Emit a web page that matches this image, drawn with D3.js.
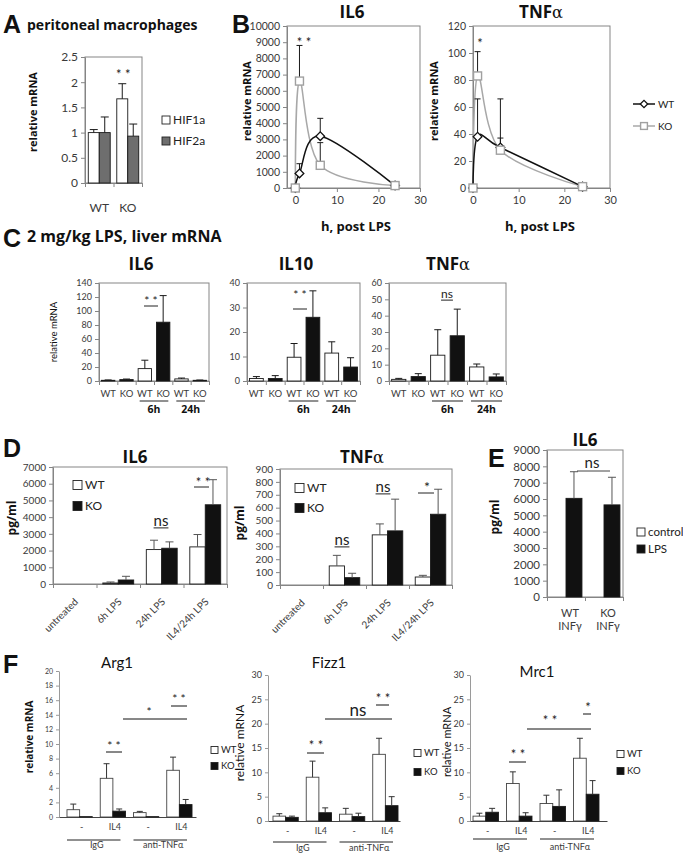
<!DOCTYPE html>
<html>
<head>
<meta charset="utf-8">
<script src="https://cdn.jsdelivr.net/npm/d3@7/dist/d3.min.js"></script>
<style>
html,body{margin:0;padding:0;background:#fff;}
svg{display:block;}
</style>
</head>
<body>
<svg id="fig" width="683" height="855" xmlns="http://www.w3.org/2000/svg"></svg>
<script>
// ===================== DATA =====================
// Panel A – peritoneal macrophages
const aGenotypes = ["WT", "KO"];
const aSeries = ["HIF1a", "HIF2a"];
const aHIF1a = [1.0, 1.67];
const aHIF1aErr = [0.06, 0.30];
const aHIF2a = [1.0, 0.93];
const aHIF2aErr = [0.31, 0.24];
const aTicks = [0, 0.5, 1, 1.5, 2, 2.5];

// Panel B – time course, h post LPS
const bHours = [0, 1, 6, 24];
const bXTicks = [0, 10, 20, 30];
const bSeries = ["WT", "KO"];
const bIL6WT = [0, 900, 3200, 150];
const bIL6WTErr = [0, 600, 1100, 0];
const bIL6KO = [0, 6600, 1400, 150];
const bIL6KOErr = [0, 2200, 1400, 0];
const bIL6Ticks = [0, 1000, 2000, 3000, 4000, 5000, 6000, 7000, 8000, 9000, 10000];
const bTNFWT = [0, 38, 30, 1];
const bTNFWTErr = [0, 28, 7, 0];
const bTNFKO = [0, 83, 28, 1];
const bTNFKOErr = [0, 18, 38, 0];
const bTNFTicks = [0, 20, 40, 60, 80, 100, 120];

// Panel C – 2 mg/kg LPS, liver mRNA
const cLabels = ["WT", "KO", "WT", "KO", "WT", "KO"];
const cGroups = [{label: "6h", from: 2, to: 3}, {label: "24h", from: 4, to: 5}];
const cIL6 = [1, 2, 17.7, 84, 3, 1];
const cIL6Err = [0.5, 0.8, 12, 38, 1.2, 0.4];
const cIL6Ticks = [0, 20, 40, 60, 80, 100, 120, 140];
const cIL10 = [1, 1, 9.7, 26, 11.4, 5.7];
const cIL10Err = [0.8, 1.2, 5.6, 10.8, 4.6, 3.8];
const cIL10Ticks = [0, 10, 20, 30, 40];
const cTNF = [1, 2.7, 15.8, 27.7, 8.6, 2.5];
const cTNFErr = [0.6, 1.8, 15.6, 16.3, 1.8, 1.8];
const cTNFTicks = [0, 10, 20, 30, 40, 50, 60];

// Panel D – pg/ml
const dCats = ["untreated", "6h LPS", "24h LPS", "IL4/24h LPS"];
const dSeries = ["WT", "KO"];
const dIL6WT = [0, 60, 2060, 2220];
const dIL6WTErr = [0, 60, 560, 740];
const dIL6KO = [0, 240, 2140, 4740];
const dIL6KOErr = [0, 220, 380, 1500];
const dIL6Ticks = [0, 1000, 2000, 3000, 4000, 5000, 6000, 7000];
const dTNFWT = [0, 148, 389, 62];
const dTNFWTErr = [0, 82, 85, 13];
const dTNFKO = [0, 57, 420, 549];
const dTNFKOErr = [0, 34, 246, 194];
const dTNFTicks = [0, 100, 200, 300, 400, 500, 600, 700, 800, 900];

// Panel E – IL6 pg/ml
const eCats = [["WT", "INFγ"], ["KO", "INFγ"]];
const eSeries = ["control", "LPS"];
const eControl = [0, 0];
const eControlErr = [0, 0];
const eLPS = [6040, 5640];
const eLPSErr = [1630, 1690];
const eTicks = [0, 1000, 2000, 3000, 4000, 5000, 6000, 7000, 8000, 9000];

// Panel F – relative mRNA
const fCats = ["-", "IL4", "-", "IL4"];
const fGroups = [{label: "IgG", from: 0, to: 1}, {label: "anti-TNFα", from: 2, to: 3}];
const fSeries = ["WT", "KO"];
const arg1WT = [1.0, 5.3, 0.6, 6.4];
const arg1WTErr = [0.77, 2.0, 0.17, 1.8];
const arg1KO = [0.05, 0.8, 0.05, 1.7];
const arg1KOErr = [0, 0.3, 0, 0.7];
const arg1Ticks = [0, 2, 4, 6, 8, 10, 12, 14, 16, 18, 20];
const fizz1WT = [1.0, 9.0, 1.4, 13.7];
const fizz1WTErr = [0.5, 3.3, 1.2, 3.3];
const fizz1KO = [0.75, 1.7, 0.9, 3.15];
const fizz1KOErr = [0.25, 1.0, 0.7, 1.85];
const mrc1WT = [1.0, 7.7, 3.6, 12.9];
const mrc1WTErr = [0.6, 2.4, 1.7, 4.1];
const mrc1KO = [1.8, 1.0, 3.0, 5.5];
const mrc1KOErr = [0.8, 0.7, 3.4, 2.8];
const fTicks = [0, 5, 10, 15, 20, 25, 30];

// ===================== HELPERS =====================
const svg = d3.select("#fig");
svg.append("rect").attr("width", 683).attr("height", 855).attr("fill", "#fff");
const AXC = "#858585";
const TICKC = "#3a3a3a";
const SANS = "Lato, 'Open Sans', sans-serif";
const BOLD = "'Open Sans', Lato, sans-serif";
const BIG = "'Liberation Sans', Arial, sans-serif";
const WHITE = "#ffffff", BLACK = "#111111", GREY = "#6e6e6e";

function txt(x, y, s, o = {}) {
  const t = svg.append("text").attr("x", x).attr("y", y)
    .attr("font-family", o.family || SANS)
    .attr("font-size", o.size || 11)
    .attr("font-weight", o.weight || "normal")
    .attr("fill", o.fill || "#111")
    .attr("text-anchor", o.anchor || "start");
  if (o.dy) t.attr("dy", o.dy);
  t.text(s);
  return t;
}
function vtxt(x, y, s, o = {}) {
  return svg.append("text").attr("transform", `translate(${x},${y}) rotate(-90)`)
    .attr("text-anchor", "middle").attr("dy", "0.35em")
    .attr("font-family", o.family || SANS).attr("font-size", o.size || 11)
    .attr("font-weight", o.weight || "normal").attr("fill", o.fill || "#111").text(s);
}
function greekTitle(x, y, base, greek, size) {
  const t = svg.append("text").attr("x", x).attr("y", y).attr("text-anchor", "middle")
    .attr("font-family", BOLD).attr("font-size", size).attr("font-weight", "bold").attr("fill", "#111");
  t.append("tspan").text(base);
  t.append("tspan").attr("font-family", "'DejaVu Serif', serif").attr("font-weight", "normal")
    .attr("font-size", size * 0.95).text(greek);
  return t;
}
function seg(x1, y1, x2, y2, c = "#111", w = 1) {
  svg.append("line").attr("x1", x1).attr("y1", y1).attr("x2", x2).attr("y2", y2)
    .attr("stroke", c).attr("stroke-width", w);
}
function stars(cx, cy, s, size = 13) {
  return txt(cx, cy + size * 0.56, s, {size, anchor: "middle", fill: "#222"});
}
function ns(cx, cy, size, underline) {
  const t = txt(cx, cy + size * 0.26, "ns", {size, anchor: "middle", fill: "#222"});
  if (underline) {
    const w = t.node().getComputedTextLength();
    seg(cx - w / 2, cy + size * 0.26 + 2, cx + w / 2, cy + size * 0.26 + 2, "#222", 1);
  }
  return t;
}
function legendSquare(x, yc, fill, label, size, fs) {
  svg.append("rect").attr("x", x).attr("y", yc - size / 2).attr("width", size).attr("height", size)
    .attr("fill", fill).attr("stroke", "#222").attr("stroke-width", 0.9);
  txt(x + size + 3, yc, label, {size: fs, dy: "0.35em", fill: "#222"});
}

function barChart(o) {
  const n = o.n;
  const y = d3.scaleLinear().domain([0, o.yMax]).range([o.yBot, o.yTop]);
  const x = d3.scaleBand().domain(d3.range(n)).range(o.band || [o.x0, o.x1]);
  const ns_ = o.series.length;
  const gw = x.bandwidth() * o.groupFrac;
  const inner = d3.scaleBand().domain(d3.range(ns_))
    .range([(x.bandwidth() - gw) / 2, (x.bandwidth() + gw) / 2]);
  const g = svg.append("g");
  if (o.box) g.append("rect").attr("x", o.x0).attr("y", o.yTop).attr("width", o.x1 - o.x0)
    .attr("height", o.yBot - o.yTop).attr("fill", "none").attr("stroke", AXC).attr("stroke-width", 1);
  const ya = g.append("g").attr("transform", `translate(${o.x0},0)`)
    .call(d3.axisLeft(y).tickValues(o.ticks).tickSize(o.tickLen || 4).tickSizeOuter(0)
      .tickPadding(o.tickPad || 3).tickFormat(d => String(d)));
  ya.select(".domain").attr("stroke", o.yAxisColor || AXC);
  ya.selectAll(".tick line").attr("stroke", o.yAxisColor || AXC);
  ya.selectAll(".tick text").attr("font-family", SANS).attr("font-size", o.tickFont).attr("fill", TICKC);
  const idx = d3.scaleLinear().domain([0, n]).range([o.x0, o.x1]);
  const xa = g.append("g").attr("transform", `translate(0,${o.yBot})`)
    .call(d3.axisBottom(idx).tickValues(o.catTicks ? d3.range(n + 1) : []).tickSize(4)
      .tickSizeOuter(0).tickFormat(""));
  xa.select(".domain").attr("stroke", o.xAxisColor || AXC);
  xa.selectAll(".tick line").attr("stroke", AXC);
  o.series.forEach((s, si) => {
    const fillOf = i => typeof s.fill === "function" ? s.fill(i) : s.fill;
    g.append("g").selectAll("rect").data(s.vals).join("rect")
      .attr("x", (d, i) => x(i) + inner(si)).attr("width", inner.bandwidth())
      .attr("y", d => y(d)).attr("height", d => Math.max(0, y(0) - y(d)))
      .attr("fill", (d, i) => fillOf(i)).attr("stroke", s.stroke || "#1a1a1a")
      .attr("stroke-width", o.barStroke || 0.9);
  });
  o.series.forEach((s, si) => {
    const eg = g.append("g").attr("stroke", o.errColor || "#1a1a1a").attr("stroke-width", 1);
    s.vals.forEach((v, i) => {
      const e = s.errs[i];
      if (!e) return;
      const cx = x(i) + inner(si) + inner.bandwidth() / 2;
      eg.append("line").attr("x1", cx).attr("x2", cx).attr("y1", y(v)).attr("y2", y(v + e));
      eg.append("line").attr("x1", cx - o.cap).attr("x2", cx + o.cap).attr("y1", y(v + e)).attr("y2", y(v + e));
    });
  });
  return {x, y, inner,
    cx: (i, si) => x(i) + inner(si) + inner.bandwidth() / 2,
    mid: i => x(i) + x.bandwidth() / 2};
}

function marker(g, cx, cy, type, color, scale = 1) {
  if (type === "square") {
    g.append("rect").attr("x", cx - 4 * scale).attr("y", cy - 4 * scale)
      .attr("width", 8 * scale).attr("height", 8 * scale)
      .attr("fill", "#fff").attr("stroke", color).attr("stroke-width", 1.4);
  } else {
    g.append("path").attr("d", d3.symbol().type(d3.symbolSquare).size(38 * scale * scale)())
      .attr("transform", `translate(${cx},${cy}) rotate(45)`)
      .attr("fill", "#fff").attr("stroke", color).attr("stroke-width", 1.3);
  }
}

function lineChart(o) {
  const x = d3.scaleLinear().domain(o.xDom).range([o.x0, o.x1]);
  const y = d3.scaleLinear().domain([0, o.yMax]).range([o.yBot, o.yTop]);
  const g = svg.append("g");
  g.append("rect").attr("x", o.x0).attr("y", o.yTop).attr("width", o.x1 - o.x0)
    .attr("height", o.yBot - o.yTop).attr("fill", "none").attr("stroke", AXC);
  const ya = g.append("g").attr("transform", `translate(${o.x0},0)`)
    .call(d3.axisLeft(y).tickValues(o.yTicks).tickSize(4).tickSizeOuter(0).tickPadding(3).tickFormat(d => String(d)));
  ya.select(".domain").attr("stroke", AXC);
  ya.selectAll(".tick line").attr("stroke", AXC);
  ya.selectAll(".tick text").attr("font-family", SANS).attr("font-size", o.tickFont).attr("fill", TICKC);
  const xa = g.append("g").attr("transform", `translate(0,${o.yBot})`)
    .call(d3.axisBottom(x).tickValues(bXTicks).tickSize(4).tickSizeOuter(0).tickPadding(4));
  xa.select(".domain").attr("stroke", AXC);
  xa.selectAll(".tick line").attr("stroke", AXC);
  xa.selectAll(".tick text").attr("font-family", SANS).attr("font-size", o.tickFont + 0.5).attr("fill", TICKC);
  const line = d3.line().x((d, i) => x(bHours[i])).y(d => y(d)).curve(d3.curveCardinal.tension(0));
  [...o.series].reverse().forEach(s => g.append("path").attr("d", line(s.vals)).attr("fill", "none")
    .attr("stroke", s.color).attr("stroke-width", 1.5));
  o.series.forEach(s => s.vals.forEach((v, i) => {
    const e = s.errs[i];
    if (!e) return;
    const cx = x(bHours[i]);
    g.append("line").attr("x1", cx).attr("x2", cx).attr("y1", y(v)).attr("y2", y(v + e)).attr("stroke", "#1a1a1a");
    g.append("line").attr("x1", cx - 3).attr("x2", cx + 3).attr("y1", y(v + e)).attr("y2", y(v + e)).attr("stroke", "#1a1a1a");
  }));
  o.series.forEach(s => s.vals.forEach((v, i) => marker(g, x(bHours[i]), y(v), s.marker, s.mcolor)));
  return {x, y};
}

// ===================== PANEL A =====================
txt(3, 33, "A", {size: 25, weight: "bold", family: BIG});
txt(27, 30, "peritoneal macrophages", {size: 14, weight: "bold", family: BOLD});
const aFills = [WHITE, GREY];
const A = barChart({n: 2, x0: 85, x1: 142, yTop: 57, yBot: 183, yMax: 2.5, ticks: aTicks, tickFont: 12,
  groupFrac: 0.77, box: true, catTicks: true, cap: 4,
  series: [{vals: aHIF1a, errs: aHIF1aErr, fill: aFills[0]}, {vals: aHIF2a, errs: aHIF2aErr, fill: aFills[1]}]});
aGenotypes.forEach((c, i) => txt(A.mid(i), 212, c, {size: 12, anchor: "middle", fill: TICKC}));
stars(A.cx(1, 0) + 1, 72, "* *", 13);
vtxt(33, 112, "relative mRNA", {size: 11, weight: "bold", family: BOLD});
aSeries.forEach((s, i) => legendSquare(162, [120, 141][i], aFills[i], s, 8, 12));

// ===================== PANEL B =====================
txt(232, 33, "B", {size: 25, weight: "bold", family: BIG});
const bSty = [{color: "#111", mcolor: "#111", marker: "diamond"}, {color: "#a8a8a8", mcolor: "#a0a0a0", marker: "square"}];
lineChart({x0: 287, x1: 420, yTop: 26, yBot: 188, xDom: [-2, 30], yMax: 10000, yTicks: bIL6Ticks, tickFont: 10.5,
  series: [Object.assign({vals: bIL6WT, errs: bIL6WTErr}, bSty[0]), Object.assign({vals: bIL6KO, errs: bIL6KOErr}, bSty[1])]});
lineChart({x0: 473, x1: 610, yTop: 26, yBot: 188, xDom: [0, 30], yMax: 120, yTicks: bTNFTicks, tickFont: 10.5,
  series: [Object.assign({vals: bTNFWT, errs: bTNFWTErr}, bSty[0]), Object.assign({vals: bTNFKO, errs: bTNFKOErr}, bSty[1])]});
txt(352, 18, "IL6", {size: 17, weight: "bold", family: BOLD, anchor: "middle"});
greekTitle(541, 18, "TNF", "α", 17);
vtxt(247, 101, "relative mRNA", {size: 11, weight: "bold", family: BOLD});
vtxt(434, 101, "relative mRNA", {size: 11, weight: "bold", family: BOLD});
txt(356, 231, "h, post LPS", {size: 13, weight: "bold", family: BOLD, anchor: "middle"});
txt(540, 231, "h, post LPS", {size: 13, weight: "bold", family: BOLD, anchor: "middle"});
stars(304, 40, "* *", 13);
stars(480, 41, "*", 13);
{
  const lg = svg.append("g");
  bSeries.forEach((s, i) => {
    const yc = [104, 126][i];
    lg.append("line").attr("x1", 633).attr("x2", 655).attr("y1", yc).attr("y2", yc)
      .attr("stroke", bSty[i].color).attr("stroke-width", 1.5);
    marker(lg, 644, yc, bSty[i].marker, bSty[i].mcolor, 0.85);
    txt(658, yc, s, {size: 10, dy: "0.35em", fill: "#222"});
  });
}

// ===================== PANEL C =====================
txt(3, 247, "C", {size: 25, weight: "bold", family: BIG});
txt(27, 242, "2 mg/kg LPS, liver mRNA", {size: 16, weight: "bold", family: BOLD});
txt(141, 270, "IL6", {size: 17, weight: "bold", family: BOLD, anchor: "middle"});
txt(296, 270, "IL10", {size: 17, weight: "bold", family: BOLD, anchor: "middle"});
greekTitle(448, 270, "TNF", "α", 17);
const cFill = i => cLabels[i] === "WT" ? WHITE : BLACK;
const cCharts = [
  {vals: cIL6, errs: cIL6Err, ticks: cIL6Ticks, yMax: 140, x0: 99, x1: 209},
  {vals: cIL10, errs: cIL10Err, ticks: cIL10Ticks, yMax: 40, x0: 247, x1: 360},
  {vals: cTNF, errs: cTNFErr, ticks: cTNFTicks, yMax: 60, x0: 389, x1: 506}
].map(c => {
  const r = barChart({n: 6, x0: c.x0, x1: c.x1, yTop: 283, yBot: 381, yMax: c.yMax, ticks: c.ticks, tickFont: 9,
    groupFrac: 0.73, box: true, catTicks: true, cap: 3.5, series: [{vals: c.vals, errs: c.errs, fill: cFill}]});
  cLabels.forEach((l, i) => txt(r.mid(i), 397, l, {size: 9.5, anchor: "middle", fill: TICKC}));
  cGroups.forEach(gp => {
    const xa = r.x(gp.from) + 4, xb = r.x(gp.to) + r.x.bandwidth() - 4;
    seg(xa, 401, xb, 401, "#222", 1);
    txt((xa + xb) / 2, 413, gp.label, {size: 10.5, weight: "bold", family: BOLD, anchor: "middle"});
  });
  return r;
});
vtxt(54, 332, "relative mRNA", {size: 9.5});
seg(144, 306, 158, 306, "#222");
stars(151, 298, "* *", 12);
seg(293, 309, 307, 309, "#222");
stars(300, 292, "* *", 12);
ns(447, 295, 12, true);

// ===================== PANEL D =====================
txt(3, 457, "D", {size: 25, weight: "bold", family: BIG});
txt(135, 463, "IL6", {size: 17, weight: "bold", family: BOLD, anchor: "middle"});
greekTitle(362, 463, "TNF", "α", 17);
const dFills = [WHITE, BLACK];
const D1 = barChart({n: 4, x0: 53, x1: 227, yTop: 467, yBot: 584, yMax: 7000, ticks: dIL6Ticks, tickFont: 10,
  groupFrac: 0.71, box: true, catTicks: true, cap: 4, errColor: "#555",
  series: [{vals: dIL6WT, errs: dIL6WTErr, fill: dFills[0]}, {vals: dIL6KO, errs: dIL6KOErr, fill: dFills[1]}]});
const D2 = barChart({n: 4, x0: 280, x1: 452, yTop: 469, yBot: 585, yMax: 900, ticks: dTNFTicks, tickFont: 10,
  groupFrac: 0.71, box: true, catTicks: true, cap: 4, errColor: "#555",
  series: [{vals: dTNFWT, errs: dTNFWTErr, fill: dFills[0]}, {vals: dTNFKO, errs: dTNFKOErr, fill: dFills[1]}]});
[[D1, 600], [D2, 601]].forEach(([r, yy]) => dCats.forEach((c, i) => {
  svg.append("text").attr("transform", `translate(${r.mid(i) + 1.5},${yy}) rotate(-45)`)
    .attr("text-anchor", "end").attr("dy", "0.35em").attr("font-family", SANS).attr("font-size", 10)
    .attr("fill", TICKC).text(c);
}));
vtxt(12, 518, "pg/ml", {size: 12, weight: "bold", family: BOLD});
vtxt(240, 523, "pg/ml", {size: 12, weight: "bold", family: BOLD});
dSeries.forEach((s, i) => legendSquare(73, [485, 506][i], dFills[i], s, 9, 12));
dSeries.forEach((s, i) => legendSquare(295, [488, 508][i], dFills[i], s, 9, 12));
ns(161, 522, 15, true);
seg(194, 487, 209, 487, "#222");
stars(203, 480, "* *", 13);
ns(342, 541, 15, true);
ns(383, 488, 15, true);
seg(418, 493, 434, 493, "#222");
stars(427, 484, "*", 14);

// ===================== PANEL E =====================
txt(488, 467, "E", {size: 25, weight: "bold", family: BIG});
txt(585, 446, "IL6", {size: 17, weight: "bold", family: BOLD, anchor: "middle"});
const eFills = [WHITE, BLACK];
const E = barChart({n: 2, x0: 547, x1: 623, yTop: 450, yBot: 597, yMax: 9000, ticks: eTicks, tickFont: 11.5,
  groupFrac: 0.84, box: true, catTicks: true, cap: 4, errColor: "#555",
  series: [{vals: eControl, errs: eControlErr, fill: eFills[0]}, {vals: eLPS, errs: eLPSErr, fill: eFills[1]}]});
eCats.forEach((c, i) => {
  txt(E.mid(i) + 4, 617, c[0], {size: 11, anchor: "middle", fill: TICKC});
  txt(E.mid(i) + 4, 630, c[1], {size: 11, anchor: "middle", fill: TICKC});
});
vtxt(495, 517, "pg/ml", {size: 12, weight: "bold", family: BOLD});
eSeries.forEach((s, i) => legendSquare(637, [532, 549][i], eFills[i], s, 8, 11.5));
seg(577, 471, 610, 471, "#444");
ns(592, 464, 15, false);

// ===================== PANEL F =====================
txt(3, 673, "F", {size: 25, weight: "bold", family: BIG});
txt(117, 668, "Arg1", {size: 15, anchor: "middle"});
txt(329, 668, "Fizz1", {size: 15, anchor: "middle"});
txt(537, 677, "Mrc1", {size: 15, anchor: "middle"});
const fFills = [WHITE, BLACK];
const fCharts = [
  {wt: arg1WT, wte: arg1WTErr, ko: arg1KO, koe: arg1KOErr, ticks: arg1Ticks, yMax: 20, x0: 59, x1: 196, band: [63, 196],
   yTop: 671, yBot: 817, tf: 7, lineOff: 23, grpOff: 31, leg: [211, 750, 766], yl: [29, 737, 10, "bold"]},
  {wt: fizz1WT, wte: fizz1WTErr, ko: fizz1KO, koe: fizz1KOErr, ticks: fTicks, yMax: 30, x0: 268, x1: 400, band: [269, 402],
   yTop: 675, yBot: 821, tf: 9, lineOff: 21, grpOff: 30, leg: [414, 753, 772], yl: [240, 743, 12, "normal"]},
  {wt: mrc1WT, wte: mrc1WTErr, ko: mrc1KO, koe: mrc1KOErr, ticks: fTicks, yMax: 30, x0: 470, x1: 607, band: [469, 603],
   yTop: 675, yBot: 821, tf: 9, lineOff: 18, grpOff: 29, leg: [617, 754, 771], yl: [447, 742, 11, "normal"]}
].map(c => {
  const r = barChart({n: 4, x0: c.x0, x1: c.x1, band: c.band, yTop: c.yTop, yBot: c.yBot, yMax: c.yMax, ticks: c.ticks,
    tickFont: c.tf, tickLen: 3, groupFrac: 0.76, box: false, catTicks: false, cap: 3,
    yAxisColor: "#9a9a9a", xAxisColor: "#444", errColor: "#333",
    series: [{vals: c.wt, errs: c.wte, fill: fFills[0], stroke: "#444"}, {vals: c.ko, errs: c.koe, fill: fFills[1]}]});
  fCats.forEach((l, i) => txt(r.mid(i) + 2, c.yBot + 13, l, {size: 9, anchor: "middle", fill: TICKC}));
  fGroups.forEach(gp => {
    const xa = r.x(gp.from) + 4, xb = r.x(gp.to) + r.x.bandwidth() - 9;
    seg(xa, c.yBot + c.lineOff, xb, c.yBot + c.lineOff, "#222", 1);
    txt((xa + xb) / 2 + 3, c.yBot + c.grpOff, gp.label, {size: 9, anchor: "middle", fill: TICKC});
  });
  fSeries.forEach((s, i) => legendSquare(c.leg[0], c.leg[1 + i], fFills[i], s, 7, 9.5));
  vtxt(c.yl[0], c.yl[1], "relative mRNA", {size: c.yl[2], weight: c.yl[3], family: c.yl[3] === "bold" ? BOLD : SANS});
  return r;
});
// Arg1 significance
seg(106, 752, 122, 752); stars(114, 743, "* *", 12);
seg(171, 706, 187, 706); stars(179, 696, "* *", 12);
seg(123, 719, 187, 719); stars(149, 709, "*", 12);
// Fizz1 significance
seg(307, 753, 324, 753); stars(316, 743, "* *", 13);
seg(376, 705, 389, 705); stars(383, 696, "* *", 13);
seg(325, 719, 392, 719); ns(358, 712, 17, false);
// Mrc1 significance
seg(509, 762, 526, 762); stars(518, 752, "* *", 13);
seg(527, 729, 591, 729); stars(550, 718, "* *", 13);
seg(583, 714, 591, 714); stars(588, 705, "*", 13);
</script>
</body>
</html>
